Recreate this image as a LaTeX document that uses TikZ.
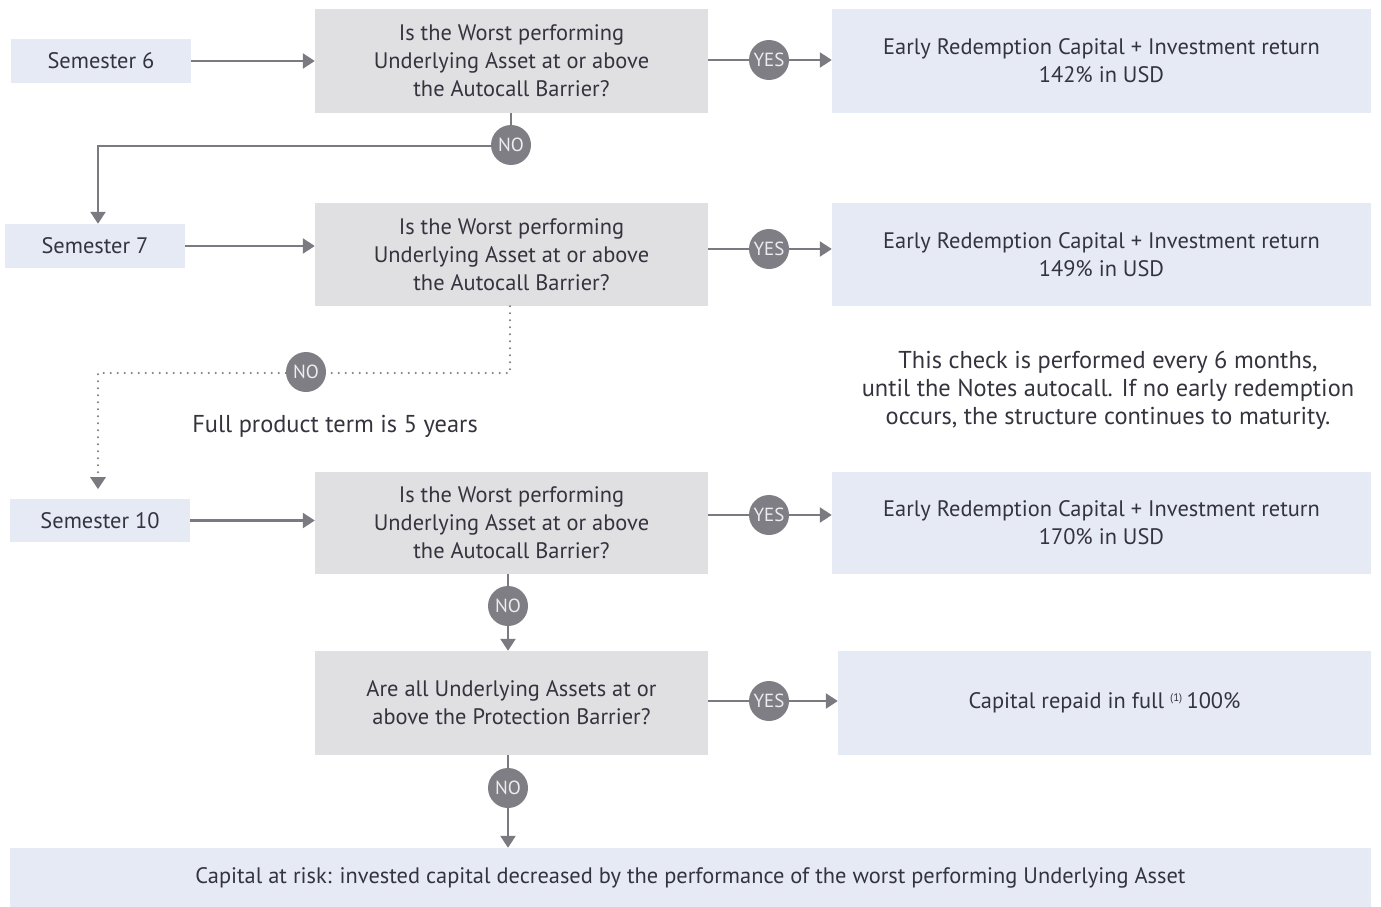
\documentclass[tikz,border=0pt]{standalone}
\usepackage{fontspec}
\setmainfont{PT Sans}
\usetikzlibrary{arrows.meta}
\definecolor{qgrey}{HTML}{E0DFE2}
\definecolor{rblue}{HTML}{E6EAF4}
\definecolor{circ}{HTML}{7F7E84}
\definecolor{lin}{HTML}{7A7A80}
\definecolor{txt}{HTML}{34343E}
\definecolor{ctxt}{HTML}{EDEDF0}
\tikzset{
  qbox/.style={fill=qgrey, inner sep=0pt, align=center, text=txt, font=\fontsize{22.4}{28}\selectfont, minimum width=393pt},
  rbox/.style={fill=rblue, inner sep=0pt, align=center, text=txt, font=\fontsize{22.4}{28}\selectfont},
  sbox/.style={fill=rblue, inner sep=0pt, text=txt, font=\fontsize{22.4}{28}\selectfont, minimum width=180pt},
  yn/.style={circle, fill=circ, inner sep=0pt, minimum size=40pt, text=ctxt, font=\fontsize{19}{20}\selectfont},
  conn/.style={draw=lin, line width=2.4pt},
  arr/.style={conn, -{Triangle[length=12pt,width=15pt]}},
  dots/.style={draw=lin, line width=2.2pt, line cap=round, dash pattern=on 0pt off 7pt},
  plain/.style={text=txt, align=center, font=\fontsize{24.4}{28}\selectfont},
}
\begin{document}
\begin{tikzpicture}[x=1pt,y=-1pt]
\useasboundingbox (0,0) rectangle (1381,907);
% boxes
\node[sbox, minimum height=44pt] (sem6) at (101,61) {Semester 6};
\node[qbox, minimum height=104pt] (q1) at (511.5,61) {Is the Worst performing\\Underlying Asset at or above\\the Autocall Barrier?};
\node[rbox, minimum width=539pt, minimum height=104pt] (r1) at (1101.5,61) {Early Redemption Capital + Investment return\\142\% in USD};
\node[sbox, minimum height=44pt] (sem7) at (95,246) {Semester 7};
\node[qbox, minimum height=103pt] (q2) at (511.5,254.5) {Is the Worst performing\\Underlying Asset at or above\\the Autocall Barrier?};
\node[rbox, minimum width=539pt, minimum height=103pt] (r2) at (1101.5,254.5) {Early Redemption Capital + Investment return\\149\% in USD};
\node[sbox, minimum height=43pt] (sem10) at (100,520.5) {Semester 10};
\node[qbox, minimum height=102pt] (q3) at (511.5,523) {Is the Worst performing\\Underlying Asset at or above\\the Autocall Barrier?};
\node[rbox, minimum width=539pt, minimum height=102pt] (r3) at (1101.5,523) {Early Redemption Capital + Investment return\\170\% in USD};
\node[qbox, minimum height=104pt] (q4) at (511.5,703) {Are all Underlying Assets at or\\above the Protection Barrier?};
\node[rbox, minimum width=533pt, minimum height=104pt] (r4) at (1104.5,703) {Capital repaid in full \textsuperscript{\fontsize{11}{12}\selectfont(1)}\,100\%};
\node[rbox, minimum width=1361pt, minimum height=60pt] (fin) at (690.5,878) {Capital at risk: invested capital decreased by the performance of the worst performing Underlying Asset};
% free text
\node[plain] (term) at (335,426) {Full product term is 5 years};
\node[plain] (note) at (1108,390) {This check is performed every 6 months,\\until the Notes autocall. If no early redemption\\occurs, the structure continues to maturity.};
% circles
\node[yn] (yes1) at (769,60) {YES};
\node[yn] (no1) at (511,145) {NO};
\node[yn] (yes2) at (769,249) {YES};
\node[yn] (no2) at (306,372) {NO};
\node[yn] (yes3) at (769,515) {YES};
\node[yn] (no3) at (508,606) {NO};
\node[yn] (yes4) at (769,701) {YES};
\node[yn] (no4) at (508,788) {NO};
\coordinate (c1) at (98,146);
\coordinate (c2) at (510,373);
\coordinate (c3) at (98,373);
\coordinate (c4) at (98,477);
\coordinate (c5) at (98,489);
% connectors
\draw[arr] (sem6.east) -- (sem6.east -| q1.west);
\draw[arr] (sem7.east) -- (sem7.east -| q2.west);
\draw[arr] (sem10.east) -- (sem10.east -| q3.west);
\draw[conn] (yes1.west -| q1.east) -- (yes1.west);
\draw[arr] (yes1.east) -- (yes1 -| r1.west);
\draw[conn] (yes2.west -| q2.east) -- (yes2.west);
\draw[arr] (yes2.east) -- (yes2 -| r2.west);
\draw[conn] (yes3.west -| q3.east) -- (yes3.west);
\draw[arr] (yes3.east) -- (yes3 -| r3.west);
\draw[conn] (yes4.west -| q4.east) -- (yes4.west);
\draw[arr] (yes4.east) -- (yes4 -| r4.west);
\draw[conn] (q1.south -| no1) -- (no1.north);
\draw[arr] (no1.west |- c1) -- (c1) -- (c1 |- sem7.north);
\draw[dots] (q2.south -| c2) -- (c2) -- (no2.east |- c2);
\draw[dots] (no2.west |- c3) -- (c3) -- (c4);
\fill[lin] (c5) -- ++(-8,-12) -- ++(16,0) -- cycle;
\draw[conn] (q3.south -| no3) -- (no3.north);
\draw[arr] (no3.south) -- (no3 |- q4.north);
\draw[conn] (q4.south -| no4) -- (no4.north);
\draw[arr] (no4.south) -- (no4 |- fin.north);
\end{tikzpicture}
\end{document}
